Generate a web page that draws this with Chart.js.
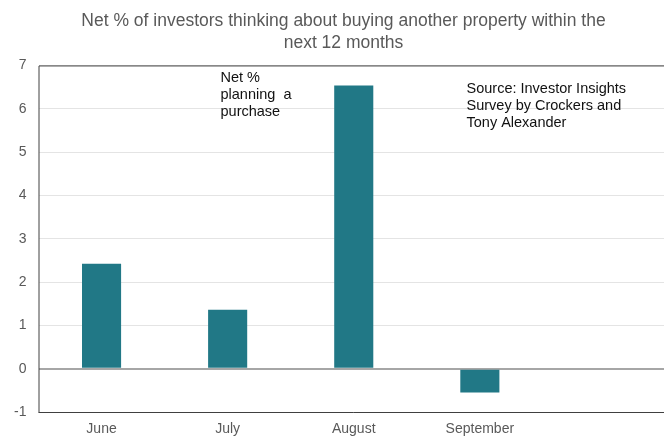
<!DOCTYPE html>
<html>
<head>
<meta charset="utf-8">
<script src="https://cdn.jsdelivr.net/npm/chart.js@4/dist/chart.umd.min.js"></script>
<style>
  html, body { margin: 0; padding: 0; background: #fff; overflow: hidden; }
  #wrap { width: 700px; height: 438px; }
</style>
</head>
<body>
<div id="wrap"><canvas id="chart" width="700" height="438"></canvas></div>
<script>
"use strict";

// Data
const months = ["June", "July", "August", "September", ""];
const netPercent = [2.42, 1.36, 6.54, -0.55, null];
const yTicks = [-1, 0, 1, 2, 3, 4, 5, 6, 7];

const titleLines = ["Net % of investors thinking about buying another property within the", "next 12 months"];
const seriesNote = ["Net %", "planning  a", "purchase"];
const sourceNote = ["Source: Investor Insights", "Survey by Crockers and", "Tony Alexander"];

const textGrey = "#595959";
const barColor = "#217886";

// draws the plot border plus the two text notes
const notesPlugin = {
    id: "notes",
    afterLayout(chart) {
        // title sits centred a bit right of the canvas middle in the original
        const t = chart.titleBlock;
        if (t) {
            t.right = 687;
            t.width = t.right - t.left;
        }
    },
    afterDraw(chart) {
        const ctx = chart.ctx;
        const area = chart.chartArea;
        ctx.save();
        ctx.strokeStyle = "#404040";
        ctx.lineWidth = 1;
        ctx.beginPath();
        ctx.moveTo(area.left + 0.5, area.bottom + 0.5);
        ctx.lineTo(area.left + 0.5, area.top + 0.5);
        ctx.lineTo(area.right, area.top + 0.5);
        ctx.moveTo(area.left, area.bottom + 0.5);
        ctx.lineTo(area.right, area.bottom + 0.5);
        ctx.stroke();

        ctx.fillStyle = "#111";
        ctx.font = "14.5px 'Liberation Sans', Arial, sans-serif";
        ctx.textBaseline = "middle";
        ctx.textAlign = "left";
        seriesNote.forEach((line, i) => {
            ctx.fillText(line, area.left + 182, area.top + 13 + i * 17);
        });
        sourceNote.forEach((line, i) => {
            ctx.fillText(line, area.left + 428, area.top + 24 + i * 17);
        });
        ctx.restore();
    }
};

new Chart("chart", {
    type: "bar",
    data: {
        labels: months,
        datasets: [{
            data: netPercent,
            backgroundColor: barColor,
            borderWidth: 0,
            categoryPercentage: 1,
            barPercentage: 0.31
        }]
    },
    options: {
        responsive: false,
        animation: false,
        devicePixelRatio: 1,
        layout: { padding: { left: 0, right: 31, top: 0, bottom: 0 } },
        plugins: {
            legend: { display: false },
            tooltip: { enabled: false },
            title: {
                display: true,
                text: titleLines,
                color: textGrey,
                font: { family: "'Liberation Sans', Arial, sans-serif", size: 17.5, weight: "normal", lineHeight: 1.27 },
                padding: { top: 10, bottom: 11 }
            }
        },
        scales: {
            x: {
                grid: { display: false, drawTicks: false },
                border: { display: false },
                ticks: {
                    color: textGrey,
                    font: { family: "'Liberation Sans', Arial, sans-serif", size: 14 },
                    padding: 9,
                    maxRotation: 0
                },
                afterFit(scale) { scale.height = 26; }
            },
            y: {
                min: -1,
                max: 7,
                afterBuildTicks(scale) {
                    scale.ticks = yTicks.map(v => ({ value: v }));
                },
                grid: {
                    drawTicks: false,
                    color: ctx => (ctx.tick && ctx.tick.value === 0) ? "#a6a6a6" : "#e4e4e4",
                    lineWidth: ctx => (ctx.tick && ctx.tick.value === 0) ? 2 : 1
                },
                border: { display: false },
                ticks: {
                    color: textGrey,
                    font: { family: "'Liberation Sans', Arial, sans-serif", size: 14 },
                    padding: 12
                },
                afterFit(scale) { scale.width = 38.5; }
            }
        }
    },
    plugins: [notesPlugin]
});
</script>
</body>
</html>
